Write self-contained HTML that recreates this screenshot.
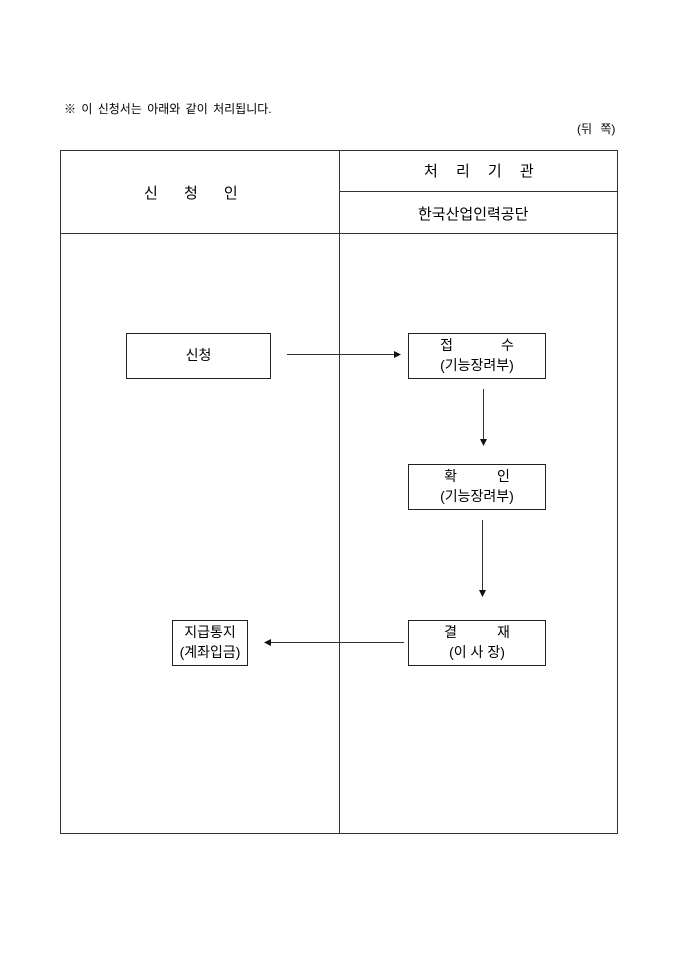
<!DOCTYPE html>
<html><head><meta charset="utf-8"><style>
body{margin:0;background:#fff;width:680px;height:962px;position:relative;font-family:"Liberation Sans","Noto Sans CJK KR","NanumGothic",sans-serif;color:#000;overflow:hidden}
.t{position:absolute;white-space:nowrap}
.b{position:absolute;border:1px solid #222;box-sizing:border-box;font-size:14px;text-align:center;line-height:20px}
</style></head><body>
<div class="t" style="left:64px;top:100px;font-size:12px;word-spacing:2px">※ 이 신청서는 아래와 같이 처리됩니다.</div>
<div class="t" style="left:577px;top:120px;font-size:12px;word-spacing:5px">(뒤 쪽)</div>
<svg width="680" height="962" style="position:absolute;left:0;top:0">
<g stroke="#333" stroke-width="1" fill="none">
<rect x="60.5" y="150.5" width="557" height="683"/>
<line x1="339.5" y1="150" x2="339.5" y2="834"/>
<line x1="339" y1="191.5" x2="618" y2="191.5"/>
<line x1="60" y1="233.5" x2="618" y2="233.5"/>
<line x1="287" y1="354.5" x2="396" y2="354.5"/>
<line x1="483.5" y1="389" x2="483.5" y2="440"/>
<line x1="482.5" y1="520" x2="482.5" y2="592"/>
<line x1="404" y1="642.5" x2="270" y2="642.5"/>
</g>
<g fill="#111">
<polygon points="401,354.5 394,351 394,358"/>
<polygon points="483.5,446 480,439 487,439"/>
<polygon points="482.5,597 479,590 486,590"/>
<polygon points="264,642.5 271,639 271,646"/>
</g>
</svg>
<div class="t" style="left:144px;top:182px;font-size:15px;word-spacing:22px">신 청 인</div>
<div class="t" style="left:424px;top:160px;font-size:15px;word-spacing:14px">처 리 기 관</div>
<div class="t" style="left:418px;top:203px;font-size:15px">한국산업인력공단</div>
<div class="b" style="left:126px;top:333px;width:145px;height:46px;padding-top:11px">신청</div>
<div class="b" style="left:408px;top:333px;width:138px;height:46px;padding-top:1px"><span style="word-spacing:44px">접 수</span><br>(기능장려부)</div>
<div class="b" style="left:408px;top:464px;width:138px;height:46px;padding-top:1px"><span style="word-spacing:36px">확 인</span><br>(기능장려부)</div>
<div class="b" style="left:408px;top:620px;width:138px;height:46px;padding-top:1px"><span style="word-spacing:36px">결 재</span><br>(이 사 장)</div>
<div class="b" style="left:172px;top:620px;width:76px;height:46px;padding-top:1px">지급통지<br>(계좌입금)</div>
</body></html>
